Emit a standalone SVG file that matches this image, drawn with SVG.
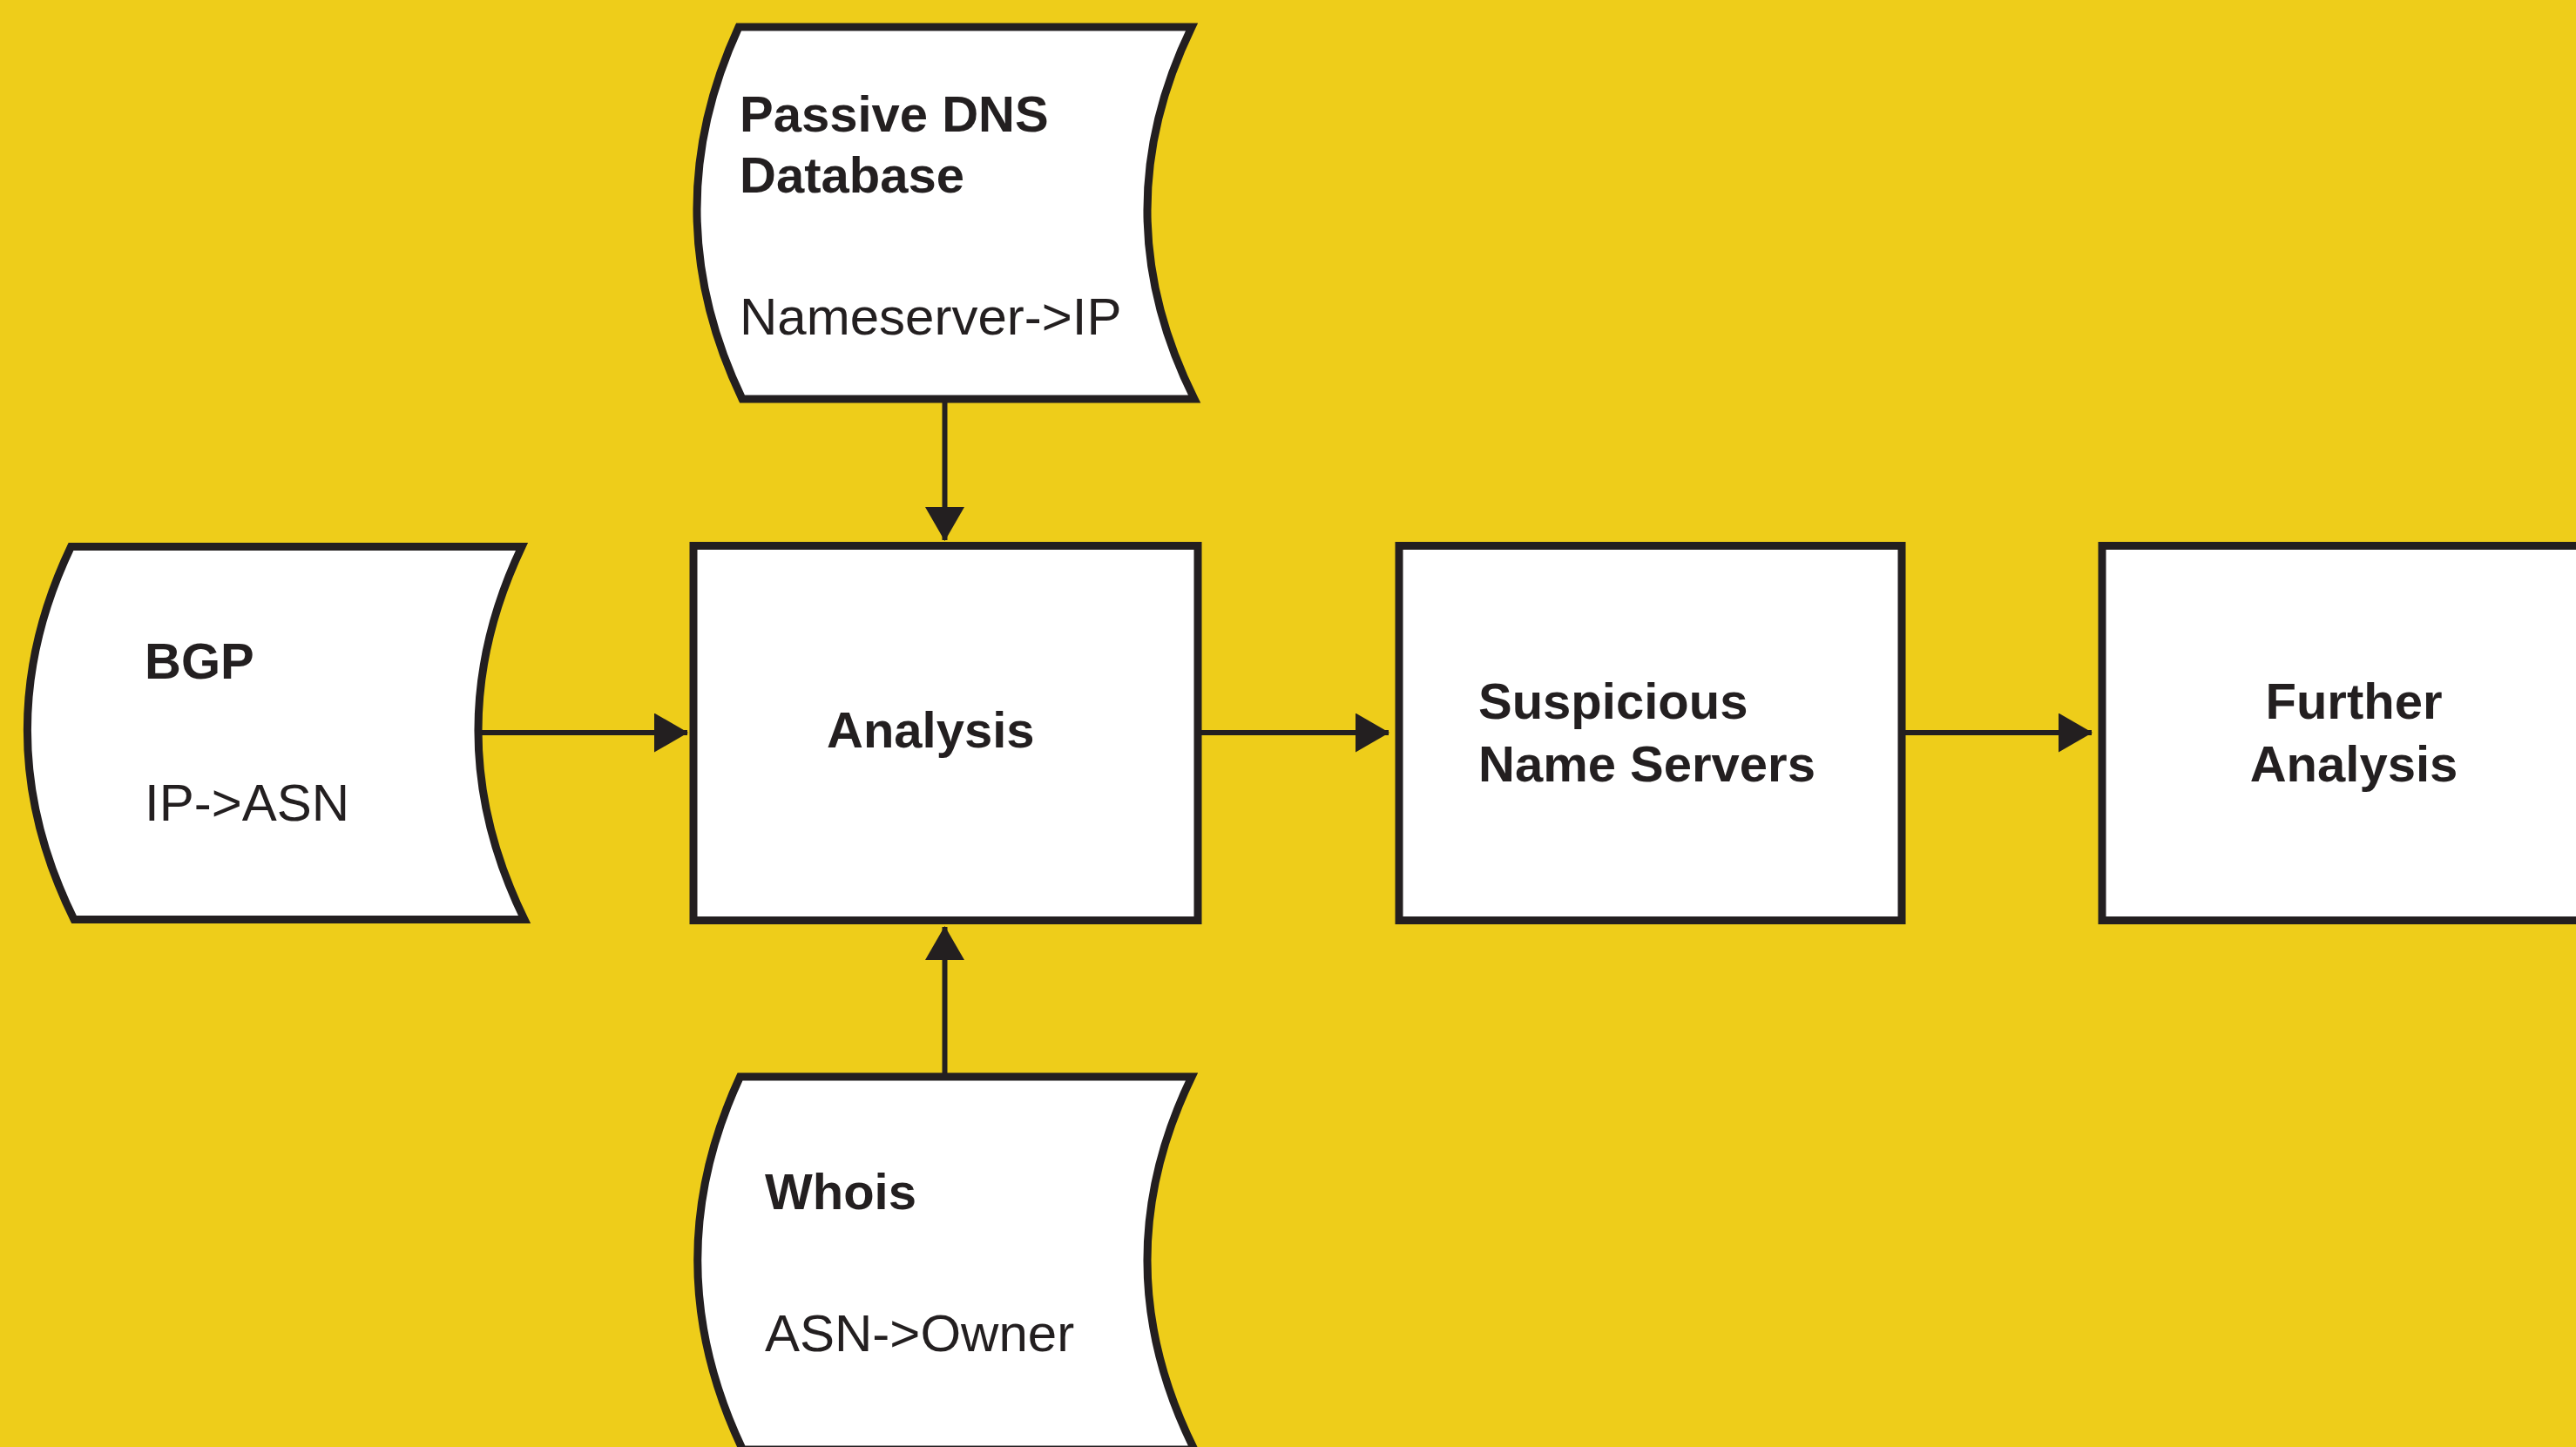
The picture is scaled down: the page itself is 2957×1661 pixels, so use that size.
<svg xmlns="http://www.w3.org/2000/svg" width="2957" height="1661" viewBox="0 0 2957 1661">
  <style>
    .node { fill: #ffffff; stroke: #231f20; stroke-width: 9; stroke-linejoin: miter; stroke-miterlimit: 6; }
    .conn { fill: none; stroke: #231f20; stroke-width: 6; }
    .b { font-family: "Liberation Sans", Arial, sans-serif; font-weight: bold; font-size: 58px; fill: #231f20; }
    .r { font-family: "Liberation Sans", Arial, sans-serif; font-weight: normal; font-size: 60px; fill: #231f20; }
  </style>
  <defs>
    <marker id="arrow" viewBox="0 0 39 45" refX="38" refY="22.5" markerWidth="39" markerHeight="45" markerUnits="userSpaceOnUse" orient="auto">
      <path d="M0,0 L39,22.5 L0,45 Z" fill="#231f20"/>
    </marker>
  </defs>
  <rect x="0" y="0" width="2957" height="1661" fill="#eecd1a"/>

  <g id="connectors">
    <line class="conn" x1="1084.5" y1="458" x2="1084.5" y2="620" marker-end="url(#arrow)"/>
    <line class="conn" x1="549" y1="841" x2="789" y2="841" marker-end="url(#arrow)"/>
    <line class="conn" x1="1084.5" y1="1236" x2="1084.5" y2="1064" marker-end="url(#arrow)"/>
    <line class="conn" x1="1375" y1="841" x2="1594" y2="841" marker-end="url(#arrow)"/>
    <line class="conn" x1="2183" y1="841" x2="2401" y2="841" marker-end="url(#arrow)"/>
  </g>

  <g id="passive-dns">
    <path class="node" d="M848,31 L1368,31 Q1264.5,244.5 1371,458 L852,458 Q750,244.5 848,31 Z"/>
    <text class="b" x="849" y="151">Passive DNS</text>
    <text class="b" x="849" y="221">Database</text>
    <text class="r" x="849" y="384">Nameserver-&gt;IP</text>
  </g>

  <g id="bgp">
    <path class="node" d="M81.5,627.5 L599,627.5 Q497.5,841.5 602,1055.5 L85,1055.5 Q-20.4,841.5 81.5,627.5 Z"/>
    <text class="b" x="166" y="779">BGP</text>
    <text class="r" x="166" y="942">IP-&gt;ASN</text>
  </g>

  <g id="whois">
    <path class="node" d="M849.5,1236 L1368,1236 Q1264.5,1449.5 1371,1664 L852.5,1664 Q750.5,1449.5 849.5,1236 Z"/>
    <text class="b" x="878" y="1388">Whois</text>
    <text class="r" x="878" y="1551">ASN-&gt;Owner</text>
  </g>

  <g id="analysis">
    <rect class="node" x="796" y="626.5" width="579" height="430"/>
    <text class="b" x="949" y="858">Analysis</text>
  </g>

  <g id="suspicious">
    <rect class="node" x="1606" y="626.5" width="577" height="430"/>
    <text class="b" x="1697" y="825">Suspicious</text>
    <text class="b" x="1697" y="897">Name Servers</text>
  </g>

  <g id="further">
    <rect class="node" x="2413" y="626.5" width="600" height="430"/>
    <text class="b" x="2702" y="825" text-anchor="middle">Further</text>
    <text class="b" x="2702" y="897" text-anchor="middle">Analysis</text>
  </g>
</svg>
